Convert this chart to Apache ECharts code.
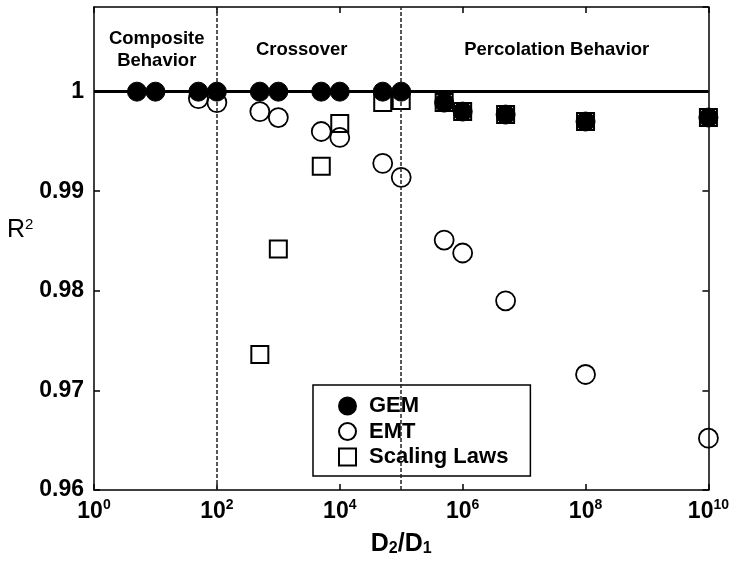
<!DOCTYPE html>
<html>
<head>
<meta charset="utf-8">
<script src="https://cdn.jsdelivr.net/npm/echarts@6/dist/echarts.min.js"></script>
<style>
  html, body { margin: 0; padding: 0; background: #fff; }
  #main { width: 732px; height: 568px; }
</style>
</head>
<body>
<div id="main"></div>
<script>
// D2/D1 ratios and R^2 values
var gemX = [5, 10, 50, 100, 500, 1e3, 5e3, 1e4, 5e4, 1e5, 5e5, 1e6, 5e6, 1e8, 1e10];
var gemR2 = [1, 1, 1, 1, 1, 1, 1, 1, 1, 1, 0.9989, 0.9980, 0.9977, 0.9970, 0.9974];

var emtX = [50, 100, 500, 1e3, 5e3, 1e4, 5e4, 1e5, 5e5, 1e6, 5e6, 1e8, 1e10];
var emtR2 = [0.9993, 0.9989, 0.9980, 0.9974, 0.9960, 0.9954, 0.9928, 0.9914, 0.9851, 0.9838, 0.9790, 0.9716, 0.9652];

var sclX = [500, 1e3, 5e3, 1e4, 5e4, 1e5, 5e5, 1e6, 5e6, 1e8, 1e10];
var sclR2 = [0.9736, 0.9842, 0.9925, 0.9968, 0.9989, 0.9991, 0.9989, 0.9980, 0.9977, 0.9970, 0.9974];

// region boundaries and labels
var regionBounds = [100, 1e5];
var regionNames = ['Composite\nBehavior', 'Crossover', 'Percolation Behavior'];
var regionLabelX = [10.5, 2400, 3.4e7];
var regionLabelY = 1.0042;

var FONT = "'Liberation Sans', Arial, sans-serif";

function pairs(xs, ys) {
  return xs.map(function (x, i) { return [x, ys[i]]; });
}

var chart = echarts.init(document.getElementById('main'));

var option = {
  animation: false,
  backgroundColor: '#fff',
  grid: { left: 94, right: 22, top: 7, bottom: 78 },
  legend: {
    orient: 'vertical',
    left: 313,
    top: 385,
    padding: [10, 22, 8, 25],
    itemWidth: 17,
    itemHeight: 17,
    itemGap: 3.5,
    borderColor: '#000',
    borderWidth: 1.5,
    backgroundColor: '#fff',
    textStyle: { fontFamily: FONT, fontWeight: 'bold', fontSize: 22, color: '#000', padding: [0, 0, 0, 8] },
    data: ['GEM', 'EMT', 'Scaling Laws']
  },
  xAxis: [{
    type: 'log',
    min: 1,
    max: 1e10,
    interval: 2,
    name: '{n|D}{sub|2}{n|/D}{sub|1}',
    nameLocation: 'middle',
    nameGap: 42,
    nameTextStyle: {
      rich: {
        n: { fontFamily: FONT, fontWeight: 'bold', fontSize: 25, color: '#000', padding: [0, 0, 8, 0] },
        sub: { fontFamily: FONT, fontWeight: 'bold', fontSize: 16, color: '#000' }
      }
    },
    axisLine: { lineStyle: { color: '#000', width: 1.5 } },
    axisTick: { inside: true, length: 6, lineStyle: { color: '#000', width: 1.5 } },
    splitLine: { show: false },
    axisLabel: {
      margin: 8,
      formatter: function (v) {
        return '{b|10}{s|' + Math.round(Math.log10(v)) + '}';
      },
      rich: {
        b: { fontFamily: FONT, fontWeight: 'bold', fontSize: 23, color: '#000' },
        s: { fontFamily: FONT, fontWeight: 'bold', fontSize: 14, color: '#000', padding: [0, 0, 13, 0] }
      }
    }
  }, {
    type: 'log',
    position: 'top',
    min: 1,
    max: 1e10,
    interval: 2,
    axisLine: { lineStyle: { color: '#000', width: 1.5 } },
    axisTick: { inside: true, length: 6, lineStyle: { color: '#000', width: 1.5 } },
    axisLabel: { show: false },
    splitLine: { show: false }
  }],
  yAxis: [{
    type: 'value',
    min: 0.96,
    max: 1.0085,
    interval: 0.01,
    name: '{n|R}{s|2}',
    nameLocation: 'middle',
    nameRotate: 0,
    nameGap: 56,
    nameTextStyle: {
      padding: [0, 0, 36, 0],
      rich: {
        n: { fontFamily: FONT, fontSize: 25, color: '#000' },
        s: { fontFamily: FONT, fontSize: 15, color: '#000', padding: [0, 0, 12, 0] }
      }
    },
    axisLine: { lineStyle: { color: '#000', width: 1.5 } },
    axisTick: { inside: true, length: 6, lineStyle: { color: '#000', width: 1.5 } },
    splitLine: { show: false },
    axisLabel: {
      showMaxLabel: false,
      margin: 10,
      fontFamily: FONT,
      fontWeight: 'bold',
      fontSize: 23,
      color: '#000',
      formatter: function (v) { return String(+v.toFixed(2)); }
    }
  }, {
    type: 'value',
    position: 'right',
    min: 0.96,
    max: 1.0085,
    interval: 0.01,
    axisLine: { lineStyle: { color: '#000', width: 1.5 } },
    axisTick: { inside: true, length: 6, lineStyle: { color: '#000', width: 1.5 } },
    axisLabel: { show: false },
    splitLine: { show: false }
  }],
  series: [
    {
      name: 'regions',
      type: 'scatter',
      data: [],
      silent: true,
      markLine: {
        silent: true,
        symbol: 'none',
        label: { show: false },
        data: regionBounds.map(function (b) {
          return { xAxis: b, lineStyle: { color: '#222', width: 1.5, type: [4, 2] } };
        }).concat([{ yAxis: 1, lineStyle: { color: '#000', width: 3, type: 'solid' } }])
      },
      markPoint: {
        silent: true,
        symbolSize: 0,
        label: {
          show: true,
          position: 'inside',
          fontFamily: FONT,
          fontWeight: 'bold',
          fontSize: 18.5,
          lineHeight: 22,
          color: '#000'
        },
        data: regionNames.map(function (n, i) {
          return { coord: [regionLabelX[i], regionLabelY], value: n, label: { formatter: n } };
        })
      }
    },
    {
      name: 'Scaling Laws',
      type: 'scatter',
      symbol: 'rect',
      symbolSize: 17,
      z: 3,
      itemStyle: { color: '#fff', borderColor: '#000', borderWidth: 2, opacity: 1 },
      data: pairs(sclX, sclR2)
    },
    {
      name: 'EMT',
      type: 'scatter',
      symbol: 'circle',
      symbolSize: 19,
      z: 4,
      itemStyle: { color: 'rgba(255,255,255,0)', borderColor: '#000', borderWidth: 1.8, opacity: 1 },
      data: pairs(emtX, emtR2)
    },
    {
      name: 'GEM',
      type: 'scatter',
      symbol: 'circle',
      symbolSize: 19,
      z: 5,
      itemStyle: { color: '#000', borderColor: '#000', borderWidth: 1, opacity: 1 },
      data: pairs(gemX, gemR2)
    }
  ]
};

chart.setOption(option);
</script>
</body>
</html>
